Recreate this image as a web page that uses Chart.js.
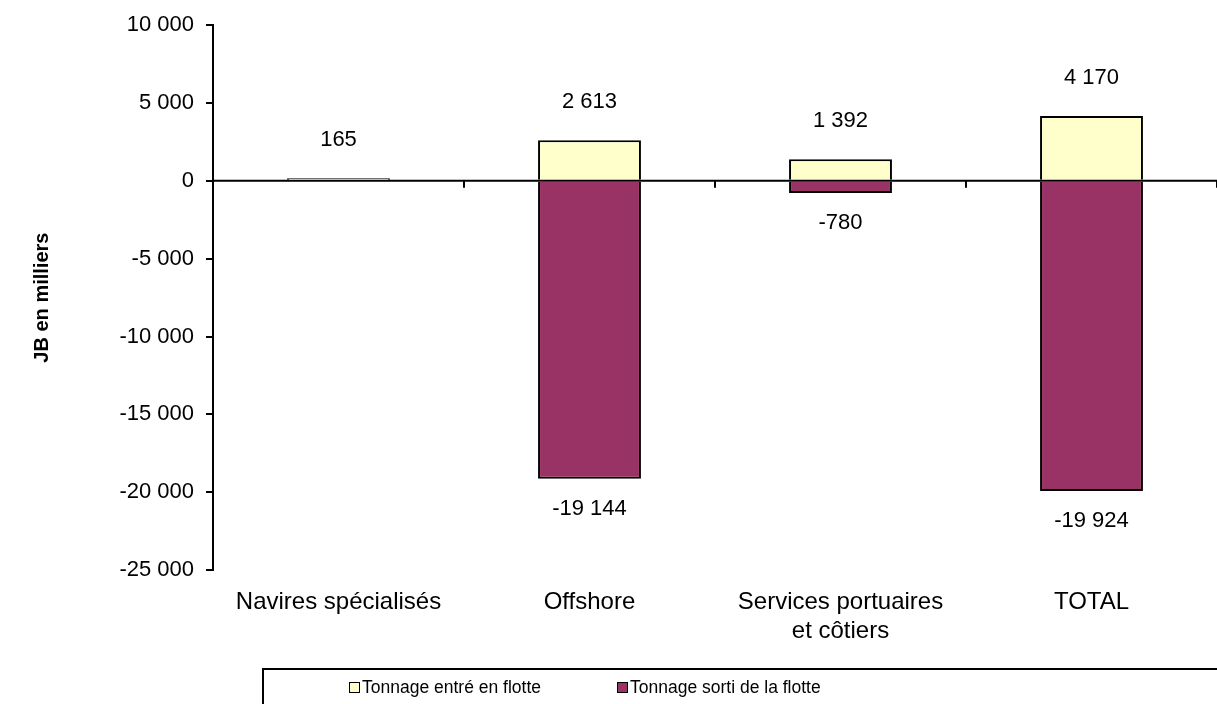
<!DOCTYPE html>
<html>
<head>
<meta charset="utf-8">
<script src="https://cdn.jsdelivr.net/npm/chart.js@4"></script>
<style>
  html, body { margin: 0; padding: 0; background: #fff; }
  #wrap { position: relative; width: 1217px; height: 704px; overflow: hidden; }
  #legend {
    position: absolute; left: 262px; top: 668px; width: 980px; height: 50px;
    border: 2px solid #000; box-sizing: border-box;
    font: 17.5px "Liberation Sans", Arial, sans-serif; color: #000;
  }
  .item { position: absolute; top: 7px; white-space: nowrap; }
  .sw { display: inline-block; width: 9px; height: 9px; border: 1.5px solid #000; margin-right: 2px; vertical-align: 0px; }
</style>
</head>
<body>
<div id="wrap">
  <canvas id="c" width="1217" height="704"></canvas>
  <div id="legend">
    <span class="item" style="left:85px"><span class="sw" style="background:#FFFFCC"></span>Tonnage entré en flotte</span>
    <span class="item" style="left:353px"><span class="sw" style="background:#993366"></span>Tonnage sorti de la flotte</span>
  </div>
</div>
<script>
    'use strict';

    // categories
    let categories = ['Navires spécialisés', 'Offshore', ['Services portuaires', 'et côtiers'], 'TOTAL']
    // series
    let entered = [165, 2613, 1392, 4170]
    let exited = [0, -19144, -780, -19924]
    let seriesNames = ['Tonnage entré en flotte', 'Tonnage sorti de la flotte']
    // y axis
    let yMin = -25000
    let yMax = 10000
    let yStep = 5000

    let FONT = '"Liberation Sans", Arial, sans-serif'

    function fmt(v) {
        let s = Math.abs(v).toString().replace(/\B(?=(\d{3})+(?!\d))/g, ' ')
        return (v < 0 ? '-' : '') + s
    }

    // zero line + category tick marks, drawn over the bars
    let zeroLine = {
        id: 'zeroLine',
        afterDatasetsDraw(chart) {
            let ctx = chart.ctx
            let area = chart.chartArea
            let y0 = chart.scales.y.getPixelForValue(0)
            ctx.save()
            ctx.strokeStyle = '#000'
            ctx.lineWidth = 2
            ctx.beginPath()
            ctx.moveTo(area.left, y0)
            ctx.lineTo(area.right, y0)
            let n = categories.length
            for (let i = 1; i <= n; i++) {
                let x = area.left + (area.right - area.left) * i / n
                ctx.moveTo(x, y0)
                ctx.lineTo(x, y0 + 7)
            }
            ctx.stroke()
            ctx.restore()
        }
    }

    // value labels
    let valueLabels = {
        id: 'valueLabels',
        afterDatasetsDraw(chart) {
            let ctx = chart.ctx
            ctx.save()
            ctx.font = '22px ' + FONT
            ctx.fillStyle = '#000'
            ctx.textAlign = 'center'
            ctx.textBaseline = 'middle'
            chart.data.datasets.forEach((ds, di) => {
                chart.getDatasetMeta(di).data.forEach((bar, i) => {
                    let v = ds.data[i]
                    if (v === 0) return
                    let y = v > 0 ? bar.y - 38 : bar.y + 30
                    ctx.fillText(fmt(v), bar.x, y)
                })
            })
            ctx.restore()
        }
    }

    new Chart(document.getElementById('c'), {
        type: 'bar',
        data: {
            labels: categories,
            datasets: [
                { label: seriesNames[0], data: entered, backgroundColor: '#FFFFCC', borderColor: '#000', borderWidth: 2 },
                { label: seriesNames[1], data: exited, backgroundColor: '#993366', borderColor: '#000', borderWidth: 2 }
            ]
        },
        options: {
            responsive: false,
            animation: false,
            layout: { padding: { left: 30, top: 24, right: 0, bottom: 0 } },
            datasets: { bar: { barPercentage: 0.41, categoryPercentage: 1 } },
            plugins: {
                legend: { display: false },
                tooltip: { enabled: false }
            },
            scales: {
                x: {
                    stacked: true,
                    grid: { display: false },
                    border: { display: false },
                    ticks: { color: '#000', font: { family: FONT, size: 24 }, maxRotation: 0, padding: 10 },
                    afterFit(s) { s.height = 134 }
                },
                y: {
                    stacked: true,
                    min: yMin,
                    max: yMax,
                    grid: { drawOnChartArea: false, color: '#000', lineWidth: 2, tickLength: 7 },
                    border: { color: '#000', width: 2 },
                    ticks: {
                        stepSize: yStep,
                        color: '#000',
                        padding: 12,
                        font: { family: FONT, size: 22 },
                        callback: v => fmt(v)
                    },
                    title: {
                        display: true,
                        text: 'JB en milliers',
                        color: '#000',
                        font: { family: FONT, size: 20, weight: 'bold' },
                        padding: 0
                    },
                    afterFit(s) { s.width = 183 }
                }
            }
        },
        plugins: [zeroLine, valueLabels]
    })
</script>
</body>
</html>
